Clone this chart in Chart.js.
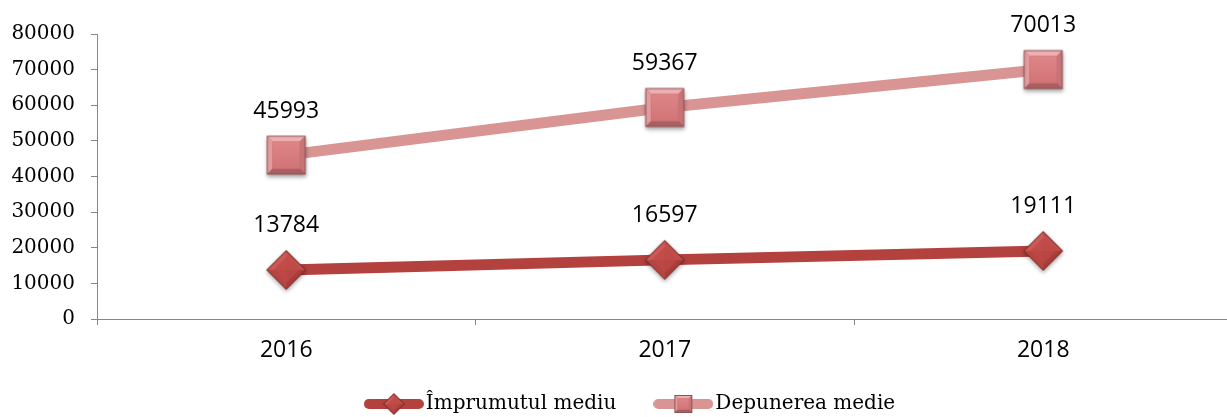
<!DOCTYPE html>
<html><head><meta charset="utf-8">
<script src="https://cdn.jsdelivr.net/npm/chart.js@4"></script>
<style>
html,body{margin:0;padding:0;overflow:hidden;background:#fff}
canvas{display:block}
</style>
</head><body><canvas id="c" width="1240" height="444"></canvas>
<script>
const categories = ['2016', '2017', '2018'];
const imprumutulMediu = [13784, 16597, 19111];
const depunereaMedie = [45993, 59367, 70013];
const seriesNames = ['Împrumutul mediu', 'Depunerea medie'];
const yTickLabels = ['0', '10000', '20000', '30000', '40000', '50000', '60000', '70000', '80000'];
const yMin = 0, yMax = 80000, yStep = 10000;

const RED = '#B3413E', PINK = '#D99594';

function mk(w, h) { const c = document.createElement('canvas'); c.width = w; c.height = h; return c; }

function drawSquare(ctx, cx, cy, s, shadow) {
  const h = s / 2;
  ctx.save();
  if (shadow) { ctx.shadowColor = 'rgba(0,0,0,0.35)'; ctx.shadowBlur = 4; ctx.shadowOffsetY = 2; }
  ctx.fillStyle = '#8F5254';
  ctx.fillRect(cx - h, cy - h, s, s);
  ctx.restore();
  const o = h - 1, b = s * 0.12, i = o - b;
  const poly = (pts, col) => { ctx.beginPath(); ctx.moveTo(pts[0][0], pts[0][1]); for (let k = 1; k < pts.length; k++) ctx.lineTo(pts[k][0], pts[k][1]); ctx.closePath(); ctx.fillStyle = col; ctx.fill(); };
  poly([[cx - o, cy - o], [cx + o, cy - o], [cx + i, cy - i], [cx - i, cy - i]], '#EDB0B2');
  poly([[cx - o, cy - o], [cx - i, cy - i], [cx - i, cy + i], [cx - o, cy + o]], '#E29A9C');
  poly([[cx + o, cy - o], [cx + o, cy + o], [cx + i, cy + i], [cx + i, cy - i]], '#C77476');
  poly([[cx - o, cy + o], [cx + o, cy + o], [cx + i, cy + i], [cx - i, cy + i]], '#A95E60');
  const g = ctx.createLinearGradient(0, cy - i, 0, cy + i);
  g.addColorStop(0, '#DE8588'); g.addColorStop(1, '#D27477');
  ctx.fillStyle = g; ctx.fillRect(cx - i, cy - i, 2 * i, 2 * i);
}

function drawDiamond(ctx, cx, cy, w, shadow) {
  const r = w / 2;
  ctx.save();
  if (shadow) { ctx.shadowColor = 'rgba(0,0,0,0.35)'; ctx.shadowBlur = 4; ctx.shadowOffsetY = 2; }
  ctx.beginPath(); ctx.moveTo(cx, cy - r); ctx.lineTo(cx + r, cy); ctx.lineTo(cx, cy + r); ctx.lineTo(cx - r, cy); ctx.closePath();
  ctx.fillStyle = '#7E2C2A'; ctx.fill();
  ctx.restore();
  const o = r - 1.3;
  const tri = (a, b, col) => { ctx.beginPath(); ctx.moveTo(cx, cy); ctx.lineTo(a[0], a[1]); ctx.lineTo(b[0], b[1]); ctx.closePath(); ctx.fillStyle = col; ctx.fill(); };
  const T = [cx, cy - o], R = [cx + o, cy], B = [cx, cy + o], L = [cx - o, cy];
  tri(L, T, '#CB5A57');
  tri(T, R, '#C14E4B');
  tri(R, B, '#A83D3A');
  tri(B, L, '#B64542');
  ctx.beginPath(); ctx.moveTo(cx, cy - o * 0.7); ctx.lineTo(cx + o * 0.7, cy); ctx.lineTo(cx, cy + o * 0.7); ctx.lineTo(cx - o * 0.7, cy); ctx.closePath();
  ctx.fillStyle = 'rgba(190,74,71,0.75)'; ctx.fill();
}

const sqImg = mk(52, 52); drawSquare(sqImg.getContext('2d'), 26, 26, 39, true);
const diImg = mk(52, 52); drawDiamond(diImg.getContext('2d'), 26, 26, 40, true);

function legendSample(color, kind) {
  const c = mk(60, 26), x = c.getContext('2d');
  x.strokeStyle = color; x.lineWidth = 10; x.lineCap = 'round';
  x.beginPath(); x.moveTo(5, 13); x.lineTo(55, 13); x.stroke();
  if (kind === 'd') drawDiamond(x, 30, 13, 22, false); else drawSquare(x, 30, 13, 18, false);
  return c;
}
const legImgs = [legendSample(RED, 'd'), legendSample(PINK, 's')];

const dataLabels = {
  id: 'dataLabels',
  afterDatasetsDraw(chart) {
    const ctx = chart.ctx; ctx.save();
    ctx.font = '23px "Open Sans"'; ctx.fillStyle = '#000'; ctx.textAlign = 'center'; ctx.textBaseline = 'middle';
    chart.data.datasets.forEach((ds, i) => {
      chart.getDatasetMeta(i).data.forEach((pt, j) => ctx.fillText(String(ds.data[j]), pt.x, pt.y - 44));
    });
    ctx.restore();
  }
};

const legendPlace = {
  id: 'legendPlace',
  afterLayout(chart) {
    const lg = chart.legend; if (!lg) return;
    const shift = 633.5 - (lg.left + lg.right) / 2;
    lg.left += shift; lg.right += shift;
    const h = lg.height; lg.top = 349; lg.bottom = 349 + h;
  }
};

new Chart(document.getElementById('c'), {
  type: 'line',
  data: {
    labels: categories,
    datasets: [
      { label: seriesNames[0], data: imprumutulMediu, borderColor: RED, backgroundColor: RED, borderWidth: 11, pointStyle: diImg, tension: 0, fill: false },
      { label: seriesNames[1], data: depunereaMedie, borderColor: PINK, backgroundColor: PINK, borderWidth: 11, pointStyle: sqImg, tension: 0, fill: false }
    ]
  },
  options: {
    responsive: false, animation: false,
    events: [],
    layout: { autoPadding: false, padding: { left: 0, right: 7.5, top: 34, bottom: 0 } },
    plugins: {
      tooltip: { enabled: false },
      legend: {
        position: 'bottom',
        labels: {
          usePointStyle: true, pointStyleWidth: 44, padding: 45, color: '#000',
          font: { family: '"DejaVu Serif"', size: 20 },
          generateLabels(chart) {
            const items = Chart.defaults.plugins.legend.labels.generateLabels(chart);
            items.forEach((it, i) => { it.pointStyle = legImgs[i]; });
            return items;
          }
        }
      }
    },
    scales: {
      x: {
        offset: true,
        grid: { display: true, drawOnChartArea: false, drawTicks: true, tickLength: 6, color: '#868686', offset: true },
        border: { color: '#868686', width: 1 },
        ticks: { color: '#000', font: { family: '"Open Sans"', size: 23 }, padding: 12, maxRotation: 0 },
        afterFit(scale) { const lg = scale.chart.legend; scale.height = 444 - 319 - (lg ? lg.height : 75); }
      },
      y: {
        min: yMin, max: yMax,
        grid: { display: true, drawOnChartArea: false, drawTicks: true, tickLength: 6, color: '#868686' },
        border: { color: '#868686', width: 1 },
        ticks: { stepSize: yStep, color: '#000', font: { family: '"DejaVu Serif"', size: 20 }, padding: 16,
          callback: (v, i) => yTickLabels[i] },
        afterFit(scale) { scale.width = 97; }
      }
    }
  },
  plugins: [dataLabels, legendPlace]
});
</script>
</body></html>
